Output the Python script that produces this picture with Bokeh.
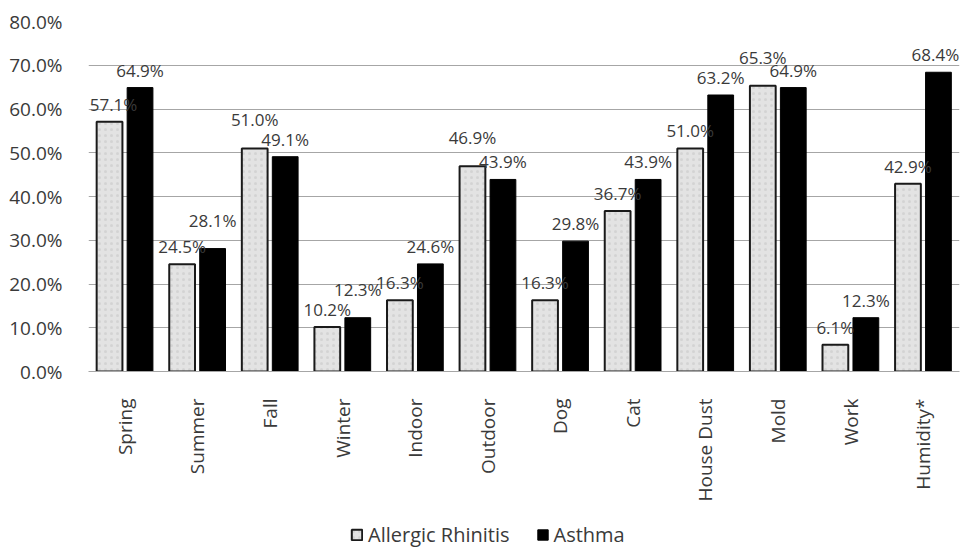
import math
from bokeh.plotting import figure
from bokeh.layouts import column
from bokeh.core.properties import value
from bokeh.models import (ColumnDataSource, FactorRange, FixedTicker, PrintfTickFormatter,
                          LabelSet, Legend, LegendItem)
from bokeh.transform import dodge
from bokeh.embed import file_html
from bokeh.resources import INLINE

# Triggers reported by each patient group (% of respondents)
categories = ["Spring", "Summer", "Fall", "Winter", "Indoor", "Outdoor", "Dog", "Cat",
              "House Dust", "Mold", "Work", "Humidity*"]
allergic_rhinitis = [57.1, 24.5, 51.0, 10.2, 16.3, 46.9, 16.3, 36.7, 51.0, 65.3, 6.1, 42.9]
asthma = [64.9, 28.1, 49.1, 12.3, 24.6, 43.9, 29.8, 43.9, 63.2, 64.9, 12.3, 68.4]
y_ticks = [0, 10, 20, 30, 40, 50, 60, 70, 80]
series_names = ["Allergic Rhinitis", "Asthma"]

FONT = "Open Sans"
TEXT = "#3a3a3a"
GRID = "#a6a6a6"

AR_STYLE = dict(fill_color="#e3e3e3", line_color="#1a1a1a", line_width=2,
                hatch_pattern="dot", hatch_color="#c4c4c4", hatch_scale=6, hatch_alpha=0.5)
AS_STYLE = dict(fill_color="black", line_color="black", line_width=1)

# Value labels sit a few pixels above each bar; when the two bars of a group are
# nearly equal, the taller one's label is lifted so the two labels don't collide.
BASE_GAP, LIFT, CLOSE = 6, 11, 4.0
ar_dy, as_dy = [], []
for a, b in zip(allergic_rhinitis, asthma):
    close = abs(a - b) < CLOSE
    ar_dy.append(BASE_GAP + (LIFT if close and a >= b else 0))
    as_dy.append(BASE_GAP + (LIFT if close and b > a else 0))
# keep the outermost labels clear of the plot's left and right edges
n = len(categories)
ar_dx = [4] + [0] * (n - 1)
as_dx = [0] * (n - 1) + [-3]

source = ColumnDataSource(data=dict(
    cat=categories,
    ar=allergic_rhinitis,
    asth=asthma,
    ar_txt=[f"{v:.1f}%" for v in allergic_rhinitis],
    asth_txt=[f"{v:.1f}%" for v in asthma],
    ar_dy=ar_dy, as_dy=as_dy, ar_dx=ar_dx, as_dx=as_dx,
))

p = figure(width=965, height=504, x_range=FactorRange(*categories), y_range=(0, 80),
           output_backend="svg", toolbar_location=None,
           min_border_left=88, min_border_right=6, min_border_top=21, min_border_bottom=133)

offset = 0.21
bar_w = 0.355
p.vbar(x=dodge("cat", -offset, range=p.x_range), top="ar", width=bar_w, bottom=0,
       source=source, **AR_STYLE)
p.vbar(x=dodge("cat", offset, range=p.x_range), top="asth", width=bar_w, bottom=0,
       source=source, **AS_STYLE)

label_style = dict(text_font=value(FONT), text_font_size="17px", text_color=TEXT,
                   text_align="center", text_baseline="bottom")
p.add_layout(LabelSet(x=dodge("cat", -offset, range=p.x_range), y="ar", text="ar_txt",
                      x_offset="ar_dx", y_offset="ar_dy", source=source, **label_style))
p.add_layout(LabelSet(x=dodge("cat", offset, range=p.x_range), y="asth", text="asth_txt",
                      x_offset="as_dx", y_offset="as_dy", source=source, **label_style))

# Axes and grid
p.outline_line_color = None
p.xgrid.grid_line_color = None
p.ygrid.grid_line_color = GRID
p.ygrid.grid_line_width = 1

p.yaxis.ticker = FixedTicker(ticks=y_ticks)
p.yaxis.formatter = PrintfTickFormatter(format="%.1f%%")
p.yaxis.axis_line_color = None
p.yaxis.major_tick_line_color = None
p.yaxis.minor_tick_line_color = None
p.yaxis.major_label_standoff = 20
p.yaxis.major_label_text_font = FONT
p.yaxis.major_label_text_font_size = "19px"
p.yaxis.major_label_text_color = TEXT

p.xaxis.axis_line_color = GRID
p.xaxis.axis_line_width = 1
p.xaxis.major_tick_line_color = None
p.xaxis.minor_tick_line_color = None
p.xaxis.major_label_orientation = math.pi / 2
p.xaxis.major_label_standoff = 21
p.xaxis.major_label_text_font = FONT
p.xaxis.major_label_text_font_size = "19px"
p.xaxis.major_label_text_color = TEXT
p.x_range.range_padding = 0

# Legend strip underneath the chart; key renderers hold a single empty (NaN) row
leg = figure(width=965, height=44, x_range=(0, 1), y_range=(0, 1),
             output_backend="svg", toolbar_location=None,
             min_border_left=0, min_border_right=0, min_border_top=0, min_border_bottom=0)
leg.axis.visible = False
leg.grid.visible = False
leg.outline_line_color = None
nan = float("nan")
k_ar = leg.vbar(x=[nan], top=[nan], width=0.1, **AR_STYLE)
k_as = leg.vbar(x=[nan], top=[nan], width=0.1, **AS_STYLE)
legend = Legend(items=[LegendItem(label=series_names[0], renderers=[k_ar]),
                       LegendItem(label=series_names[1], renderers=[k_as])],
                orientation="horizontal", location=(262, 0),
                glyph_width=13, glyph_height=13, label_standoff=5, spacing=26,
                padding=0, margin=0, border_line_alpha=0, background_fill_alpha=0,
                label_text_font=FONT, label_text_font_size="20px", label_text_color=TEXT)
leg.add_layout(legend, "center")

open("out.html", "w").write(file_html(column(p, leg), INLINE))
